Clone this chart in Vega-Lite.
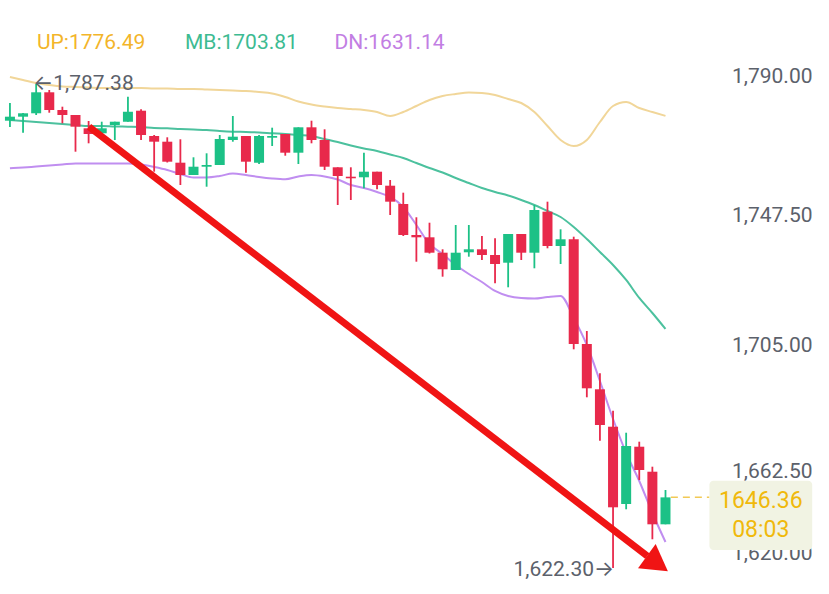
{
  "$schema": "https://vega.github.io/schema/vega-lite/v6.json",
  "width": 829,
  "height": 594,
  "autosize": "none",
  "padding": 0,
  "background": "#ffffff",
  "config": {"view": {"stroke": null}, "font": "Roboto"},
  "datasets": {
    "candles": [
      {"i":0,"open":1774.83,"close":1776.20,"high":1780.87,"low":1772.68,"up":1789.74,"mb":1775.07,"dn":1758.60},
      {"i":1,"open":1776.20,"close":1777.36,"high":1777.46,"low":1770.74,"up":1788.71,"mb":1774.73,"dn":1758.87},
      {"i":2,"open":1777.36,"close":1784.52,"high":1787.38,"low":1776.78,"up":1787.69,"mb":1774.39,"dn":1759.21},
      {"i":3,"open":1784.52,"close":1778.48,"high":1785.30,"low":1777.56,"up":1787.01,"mb":1774.05,"dn":1759.55},
      {"i":4,"open":1778.48,"close":1776.78,"high":1779.61,"low":1773.95,"up":1786.50,"mb":1773.71,"dn":1759.89},
      {"i":5,"open":1776.78,"close":1772.79,"high":1776.78,"low":1764.26,"up":1786.33,"mb":1773.37,"dn":1760.23},
      {"i":6,"open":1772.24,"close":1770.30,"high":1774.73,"low":1767.12,"up":1786.16,"mb":1773.02,"dn":1760.23},
      {"i":7,"open":1770.54,"close":1772.24,"high":1774.49,"low":1770.30,"up":1785.99,"mb":1773.02,"dn":1760.23},
      {"i":8,"open":1773.37,"close":1774.49,"high":1774.49,"low":1768.25,"up":1785.99,"mb":1772.85,"dn":1760.23},
      {"i":9,"open":1774.49,"close":1777.90,"high":1783.02,"low":1774.49,"up":1785.99,"mb":1772.79,"dn":1760.23},
      {"i":10,"open":1778.24,"close":1769.96,"high":1778.72,"low":1768.25,"up":1785.99,"mb":1772.68,"dn":1759.89},
      {"i":11,"open":1769.61,"close":1767.67,"high":1769.96,"low":1757.44,"up":1785.82,"mb":1772.34,"dn":1759.04},
      {"i":12,"open":1767.67,"close":1760.85,"high":1769.17,"low":1760.58,"up":1785.82,"mb":1772.24,"dn":1758.02},
      {"i":13,"open":1760.51,"close":1756.31,"high":1768.49,"low":1752.90,"up":1785.64,"mb":1772.00,"dn":1756.65},
      {"i":14,"open":1756.31,"close":1759.14,"high":1762.35,"low":1756.31,"up":1785.64,"mb":1771.83,"dn":1755.46},
      {"i":15,"open":1759.14,"close":1759.72,"high":1763.71,"low":1752.32,"up":1785.47,"mb":1771.66,"dn":1755.46},
      {"i":16,"open":1759.72,"close":1768.59,"high":1769.96,"low":1759.72,"up":1785.30,"mb":1771.32,"dn":1755.97},
      {"i":17,"open":1768.25,"close":1769.38,"high":1776.44,"low":1767.67,"up":1785.13,"mb":1771.08,"dn":1756.83},
      {"i":18,"open":1769.61,"close":1760.85,"high":1769.61,"low":1757.10,"up":1784.96,"mb":1770.98,"dn":1756.31},
      {"i":19,"open":1760.51,"close":1769.61,"high":1769.96,"low":1760.06,"up":1784.62,"mb":1770.81,"dn":1755.63},
      {"i":20,"open":1769.03,"close":1769.61,"high":1772.45,"low":1766.20,"up":1784.11,"mb":1770.54,"dn":1755.12},
      {"i":21,"open":1770.30,"close":1763.92,"high":1770.30,"low":1762.89,"up":1782.92,"mb":1770.30,"dn":1754.85},
      {"i":22,"open":1763.92,"close":1772.58,"high":1772.58,"low":1760.06,"up":1781.38,"mb":1769.96,"dn":1755.80},
      {"i":23,"open":1772.58,"close":1768.25,"high":1774.83,"low":1767.12,"up":1780.36,"mb":1769.61,"dn":1756.31},
      {"i":24,"open":1768.25,"close":1759.14,"high":1771.90,"low":1758.02,"up":1779.68,"mb":1768.59,"dn":1755.80},
      {"i":25,"open":1758.94,"close":1755.97,"high":1758.94,"low":1746.08,"up":1779.16,"mb":1767.57,"dn":1754.78},
      {"i":26,"open":1755.73,"close":1755.19,"high":1758.94,"low":1747.79,"up":1778.82,"mb":1766.37,"dn":1752.90},
      {"i":27,"open":1755.53,"close":1757.44,"high":1763.92,"low":1751.78,"up":1778.48,"mb":1765.35,"dn":1751.88},
      {"i":28,"open":1757.44,"close":1752.90,"high":1757.44,"low":1751.43,"up":1777.80,"mb":1764.50,"dn":1750.51},
      {"i":29,"open":1752.66,"close":1747.21,"high":1754.61,"low":1742.67,"up":1776.44,"mb":1763.30,"dn":1748.81},
      {"i":30,"open":1746.42,"close":1735.85,"high":1750.28,"low":1735.51,"up":1777.80,"mb":1762.11,"dn":1745.40},
      {"i":31,"open":1735.85,"close":1735.06,"high":1741.89,"low":1726.74,"up":1779.85,"mb":1760.41,"dn":1739.26},
      {"i":32,"open":1735.06,"close":1729.81,"high":1740.04,"low":1729.54,"up":1781.89,"mb":1758.70,"dn":1732.78},
      {"i":33,"open":1729.81,"close":1724.15,"high":1730.97,"low":1721.63,"up":1783.26,"mb":1757.17,"dn":1729.37},
      {"i":34,"open":1723.91,"close":1729.81,"high":1739.26,"low":1723.91,"up":1783.94,"mb":1755.29,"dn":1725.62},
      {"i":35,"open":1729.95,"close":1730.97,"high":1739.26,"low":1728.45,"up":1784.45,"mb":1753.58,"dn":1722.55},
      {"i":36,"open":1730.97,"close":1729.03,"high":1735.51,"low":1727.32,"up":1784.28,"mb":1751.88,"dn":1719.82},
      {"i":37,"open":1729.03,"close":1725.96,"high":1734.72,"low":1719.37,"up":1783.60,"mb":1750.51,"dn":1716.75},
      {"i":38,"open":1726.40,"close":1736.19,"high":1736.19,"low":1718.01,"up":1782.23,"mb":1749.32,"dn":1715.04},
      {"i":39,"open":1736.19,"close":1729.81,"high":1736.19,"low":1727.32,"up":1780.87,"mb":1747.79,"dn":1714.36},
      {"i":40,"open":1729.81,"close":1744.37,"high":1746.08,"low":1724.49,"up":1777.80,"mb":1746.08,"dn":1714.19},
      {"i":41,"open":1743.80,"close":1732.10,"high":1747.21,"low":1731.31,"up":1773.02,"mb":1744.03,"dn":1714.70},
      {"i":42,"open":1732.10,"close":1734.38,"high":1737.79,"low":1725.96,"up":1768.25,"mb":1741.99,"dn":1715.04},
      {"i":43,"open":1734.38,"close":1698.67,"high":1735.27,"low":1696.86,"up":1766.20,"mb":1738.58,"dn":1707.54},
      {"i":44,"open":1698.67,"close":1683.56,"high":1703.10,"low":1680.49,"up":1768.25,"mb":1734.48,"dn":1698.33},
      {"i":45,"open":1683.22,"close":1671.04,"high":1688.68,"low":1665.69,"up":1774.39,"mb":1730.05,"dn":1686.05},
      {"i":46,"open":1670.46,"close":1642.97,"high":1675.92,"low":1622.30,"up":1779.85,"mb":1725.62,"dn":1673.09},
      {"i":47,"open":1644.10,"close":1663.88,"high":1668.41,"low":1642.29,"up":1781.21,"mb":1720.50,"dn":1661.49},
      {"i":48,"open":1663.64,"close":1655.69,"high":1665.35,"low":1652.28,"up":1779.16,"mb":1714.36,"dn":1651.94},
      {"i":49,"open":1655.11,"close":1637.17,"high":1656.82,"low":1632.06,"up":1777.80,"mb":1709.24,"dn":1641.03},
      {"i":50,"open":1637.17,"close":1646.36,"high":1648.87,"low":1637.17,"up":1776.49,"mb":1703.81,"dn":1631.14}
    ]
  },
  "layer": [
    {
      "data": {"name": "candles"},
      "mark": {"type": "line", "color": "#f1d699", "strokeWidth": 2, "interpolate": "monotone"},
      "encoding": {
        "x": {"field": "i", "type": "quantitative", "scale": {"domain": [-0.3768, 62.09], "nice": false, "zero": false}, "axis": null},
        "y": {"field": "up", "type": "quantitative", "scale": {"domain": [1613.4, 1816], "nice": false, "zero": false},
          "axis": {"orient": "right", "offset": -17, "values": [1790, 1747.5, 1705, 1662.5, 1620], "format": ",.2f",
            "labelAlign": "right", "labelBaseline": "middle", "labelPadding": 0, "ticks": false, "tickSize": 0, "domain": false, "grid": false,
            "title": null, "labelFont": "Roboto", "labelFontSize": 21, "labelColor": "#5c616b", "labelOverlap": false, "labelFlush": false,
            "labelOffset": {"expr": "datum.value < 1640 ? -21 : datum.value < 1680 ? 21 : datum.value < 1720 ? 20 : datum.value < 1760 ? 15 : 0"}}}
      }
    },
    {
      "data": {"name": "candles"},
      "mark": {"type": "line", "color": "#4cc19e", "strokeWidth": 2, "interpolate": "monotone"},
      "encoding": {
        "x": {"field": "i", "type": "quantitative", "scale": {"domain": [-0.3768, 62.09], "nice": false, "zero": false}, "axis": null},
        "y": {"field": "mb", "type": "quantitative", "scale": {"domain": [1613.4, 1816], "nice": false, "zero": false}, "axis": {"title": null}}
      }
    },
    {
      "data": {"name": "candles"},
      "mark": {"type": "line", "color": "#c08ef0", "strokeWidth": 2, "interpolate": "monotone"},
      "encoding": {
        "x": {"field": "i", "type": "quantitative", "scale": {"domain": [-0.3768, 62.09], "nice": false, "zero": false}, "axis": null},
        "y": {"field": "dn", "type": "quantitative", "scale": {"domain": [1613.4, 1816], "nice": false, "zero": false}, "axis": {"title": null}}
      }
    },
    {
      "data": {"name": "candles"},
      "mark": {"type": "rule", "strokeWidth": 1.8},
      "encoding": {
        "x": {"field": "i", "type": "quantitative", "scale": {"domain": [-0.3768, 62.09], "nice": false, "zero": false}, "axis": null},
        "y": {"field": "low", "type": "quantitative", "scale": {"domain": [1613.4, 1816], "nice": false, "zero": false}, "axis": {"title": null}},
        "y2": {"field": "high"},
        "color": {"condition": {"test": "datum.close >= datum.open", "value": "#1cc186"}, "value": "#e8294b"}
      }
    },
    {
      "data": {"name": "candles"},
      "mark": {"type": "bar", "size": 10},
      "encoding": {
        "x": {"field": "i", "type": "quantitative", "scale": {"domain": [-0.3768, 62.09], "nice": false, "zero": false}, "axis": null},
        "y": {"field": "open", "type": "quantitative", "scale": {"domain": [1613.4, 1816], "nice": false, "zero": false}, "axis": {"title": null}},
        "y2": {"field": "close"},
        "color": {"condition": {"test": "datum.close >= datum.open", "value": "#1cc186"}, "value": "#e8294b"}
      }
    },
    {
      "data": {"values": [{"i": 6.03, "v": 1772.79}, {"i": 48.61, "v": 1626.36}]},
      "mark": {"type": "line", "color": "#f01414", "strokeWidth": 7},
      "encoding": {
        "x": {"field": "i", "type": "quantitative", "scale": {"domain": [-0.3768, 62.09], "nice": false, "zero": false}, "axis": null},
        "y": {"field": "v", "type": "quantitative", "scale": {"domain": [1613.4, 1816], "nice": false, "zero": false}, "axis": {"title": null}}
      }
    },
    {
      "data": {"values": [{"i": 49.38, "v": 1623.74}]},
      "mark": {"type": "point", "shape": "triangle-right", "angle": 36, "size": 900, "filled": true, "opacity": 1, "color": "#f01414"},
      "encoding": {
        "x": {"field": "i", "type": "quantitative", "scale": {"domain": [-0.3768, 62.09], "nice": false, "zero": false}, "axis": null},
        "y": {"field": "v", "type": "quantitative", "scale": {"domain": [1613.4, 1816], "nice": false, "zero": false}, "axis": {"title": null}}
      }
    },
    {
      "data": {"values": [{"label": "←1,787.38", "i": 2, "v": 1787.38}]},
      "mark": {"type": "text", "align": "left", "baseline": "middle", "dx": -3, "fontSize": 21, "font": "Roboto, Inter, DejaVu Sans", "color": "#5c616b"},
      "encoding": {
        "x": {"field": "i", "type": "quantitative", "scale": {"domain": [-0.3768, 62.09], "nice": false, "zero": false}, "axis": null},
        "y": {"field": "v", "type": "quantitative", "scale": {"domain": [1613.4, 1816], "nice": false, "zero": false}, "axis": {"title": null}},
        "text": {"field": "label"}
      }
    },
    {
      "data": {"values": [{"label": "1,622.30→", "i": 46, "v": 1622.30}]},
      "mark": {"type": "text", "align": "right", "baseline": "middle", "dx": 1, "dy": 2, "fontSize": 21, "font": "Roboto, Inter, DejaVu Sans", "color": "#5c616b"},
      "encoding": {
        "x": {"field": "i", "type": "quantitative", "scale": {"domain": [-0.3768, 62.09], "nice": false, "zero": false}, "axis": null},
        "y": {"field": "v", "type": "quantitative", "scale": {"domain": [1613.4, 1816], "nice": false, "zero": false}, "axis": {"title": null}},
        "text": {"field": "label"}
      }
    },
    {
      "data": {"values": [{"label": "UP:1776.49"}]},
      "mark": {"type": "text", "align": "left", "baseline": "middle", "fontSize": 21, "color": "#f3b52a"},
      "encoding": {
        "x": {"datum": 2.06, "type": "quantitative", "scale": {"domain": [-0.3768, 62.09], "nice": false, "zero": false}, "axis": null},
        "y": {"datum": 1801.44, "type": "quantitative", "scale": {"domain": [1613.4, 1816], "nice": false, "zero": false}, "axis": {"title": null}},
        "text": {"field": "label"}
      }
    },
    {
      "data": {"values": [{"label": "MB:1703.81"}]},
      "mark": {"type": "text", "align": "left", "baseline": "middle", "fontSize": 21, "color": "#3dbb92"},
      "encoding": {
        "x": {"datum": 13.35, "type": "quantitative", "scale": {"domain": [-0.3768, 62.09], "nice": false, "zero": false}, "axis": null},
        "y": {"datum": 1801.44, "type": "quantitative", "scale": {"domain": [1613.4, 1816], "nice": false, "zero": false}, "axis": {"title": null}},
        "text": {"field": "label"}
      }
    },
    {
      "data": {"values": [{"label": "DN:1631.14"}]},
      "mark": {"type": "text", "align": "left", "baseline": "middle", "fontSize": 21, "color": "#c27ee3"},
      "encoding": {
        "x": {"datum": 24.75, "type": "quantitative", "scale": {"domain": [-0.3768, 62.09], "nice": false, "zero": false}, "axis": null},
        "y": {"datum": 1801.44, "type": "quantitative", "scale": {"domain": [1613.4, 1816], "nice": false, "zero": false}, "axis": {"title": null}},
        "text": {"field": "label"}
      }
    },
    {
      "data": {"values": [{"price": 1646.36}]},
      "mark": {"type": "rule", "color": "#f2c955", "strokeWidth": 1.5, "strokeDash": [7, 5]},
      "encoding": {
        "x": {"datum": 50.41, "type": "quantitative", "scale": {"domain": [-0.3768, 62.09], "nice": false, "zero": false}, "axis": null},
        "x2": {"datum": 53.35},
        "y": {"field": "price", "type": "quantitative", "scale": {"domain": [1613.4, 1816], "nice": false, "zero": false}, "axis": {"title": null}}
      }
    },
    {
      "data": {"values": [{"price": 1646.36}]},
      "mark": {"type": "rect", "color": "#f1f3e3", "cornerRadius": 4},
      "encoding": {
        "x": {"datum": 53.35, "type": "quantitative", "scale": {"domain": [-0.3768, 62.09], "nice": false, "zero": false}, "axis": null},
        "x2": {"datum": 61.19},
        "y": {"datum": 1652.05, "type": "quantitative", "scale": {"domain": [1613.4, 1816], "nice": false, "zero": false}, "axis": {"title": null}},
        "y2": {"datum": 1628.41}
      }
    },
    {
      "data": {"values": [{"price": 1646.36}]},
      "mark": {"type": "text", "align": "center", "baseline": "middle", "dy": 4, "fontSize": 23, "color": "#f0b90b"},
      "encoding": {
        "x": {"datum": 57.27, "type": "quantitative", "scale": {"domain": [-0.3768, 62.09], "nice": false, "zero": false}, "axis": null},
        "y": {"field": "price", "type": "quantitative", "scale": {"domain": [1613.4, 1816], "nice": false, "zero": false}, "axis": {"title": null}},
        "text": {"field": "price", "format": ".2f"}
      }
    },
    {
      "data": {"values": [{"time": "08:03"}]},
      "mark": {"type": "text", "align": "center", "baseline": "middle", "fontSize": 23, "color": "#f0b90b"},
      "encoding": {
        "x": {"datum": 57.27, "type": "quantitative", "scale": {"domain": [-0.3768, 62.09], "nice": false, "zero": false}, "axis": null},
        "y": {"datum": 1635.23, "type": "quantitative", "scale": {"domain": [1613.4, 1816], "nice": false, "zero": false}, "axis": {"title": null}},
        "text": {"field": "time"}
      }
    }
  ]
}
